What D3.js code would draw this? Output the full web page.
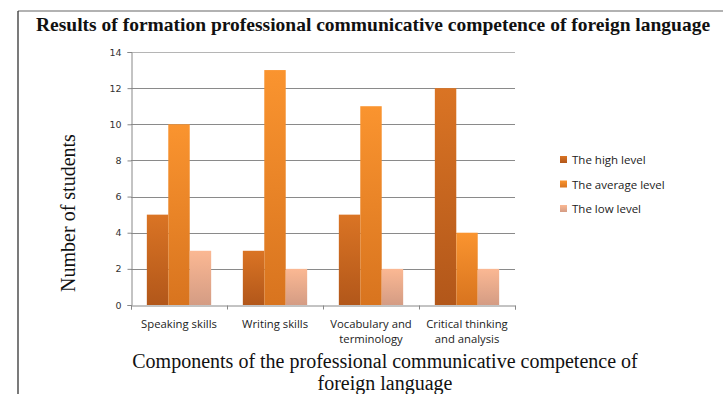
<!DOCTYPE html>
<html>
<head>
<meta charset="utf-8">
<script src="https://cdn.jsdelivr.net/npm/d3@7"></script>
<style>
  html, body { margin: 0; padding: 0; background: #fff; }
  svg { display: block; }
</style>
</head>
<body>
<svg id="chart" width="723" height="394"></svg>
<script>
// Survey results per competence component
const categories = [
  ["Speaking skills"],
  ["Writing skills"],
  ["Vocabulary and", "terminology"],
  ["Critical thinking", "and analysis"]
];
const seriesNames = ["The high level", "The average level", "The low level"];
const highLevel = [5, 3, 5, 12];
const averageLevel = [10, 13, 11, 4];
const lowLevel = [3, 2, 2, 2];
const yTicks = [0, 2, 4, 6, 8, 10, 12, 14];

const series = [highLevel, averageLevel, lowLevel];
const gradStops = [
  ["#da7424", "#b2571a"],
  ["#fa942f", "#d8741f"],
  ["#fbb893", "#d49c84"]
];

const svg = d3.select("#chart");
const margin = { left: 131, right: 208, top: 52, bottom: 89 };
const W = 723, H = 394;

// Gradients for bar fills
const defs = svg.append("defs");
gradStops.forEach((s, i) => {
  const g = defs.append("linearGradient")
    .attr("id", "grad" + i).attr("x1", 0).attr("y1", 0).attr("x2", 0).attr("y2", 1);
  g.append("stop").attr("offset", "0%").attr("stop-color", s[0]);
  g.append("stop").attr("offset", "100%").attr("stop-color", s[1]);
});

// Page frame
svg.append("line").attr("x1", 18).attr("x2", W).attr("y1", 11).attr("y2", 11)
  .attr("stroke", "#666").attr("stroke-width", 1.2);
svg.append("line").attr("x1", 18).attr("x2", 18).attr("y1", 11).attr("y2", H)
  .attr("stroke", "#222").attr("stroke-width", 1.2);

// Title
svg.append("text")
  .attr("x", 36).attr("y", 31)
  .attr("font-family", "Liberation Serif, Times New Roman, serif")
  .attr("font-weight", "bold").attr("font-size", 19.5)
  .attr("fill", "#111")
  .text("Results of formation professional communicative competence of foreign language");

const x0 = d3.scaleBand()
  .domain(d3.range(categories.length))
  .range([margin.left, W - margin.right])
  .paddingInner(0.33).paddingOuter(0.165);
const x1 = d3.scaleBand().domain(d3.range(series.length)).range([0, x0.bandwidth()]);
const y = d3.scaleLinear().domain([0, 14]).range([H - margin.bottom, margin.top]);

// Gridlines
svg.append("g").selectAll("line").data(yTicks.filter(d => d > 0)).join("line")
  .attr("x1", margin.left).attr("x2", W - margin.right)
  .attr("y1", d => Math.round(y(d)) + 0.5).attr("y2", d => Math.round(y(d)) + 0.5)
  .attr("stroke", d => d === 14 ? "#b5b5b5" : "#8a8a8a").attr("stroke-width", 1);

// Bars
const groups = svg.append("g").selectAll("g").data(categories).join("g")
  .attr("transform", (d, i) => `translate(${x0(i)},0)`);
groups.selectAll("rect")
  .data((d, i) => series.map((s, k) => ({ k, v: s[i] })))
  .join("rect")
  .attr("x", d => x1(d.k))
  .attr("width", x1.bandwidth())
  .attr("y", d => y(d.v))
  .attr("height", d => y(0) - y(d.v))
  .attr("fill", d => `url(#grad${d.k})`);

// Y axis
const yAxis = svg.append("g")
  .attr("transform", `translate(${margin.left + 0.5},0)`)
  .call(d3.axisLeft(y).tickValues(yTicks).tickSize(4).tickPadding(6));
yAxis.select(".domain").attr("stroke", "#888");
yAxis.selectAll(".tick line").attr("stroke", "#888");
yAxis.selectAll("text").attr("font-family", "DejaVu Sans, sans-serif")
  .attr("font-size", 9.5).attr("fill", "#333");

// X axis with boundary ticks between categories
const xB = d3.scaleLinear().domain([0, categories.length]).range([margin.left, W - margin.right]);
const xAxis = svg.append("g")
  .attr("transform", `translate(0,${Math.round(y(0)) + 0.5})`)
  .call(d3.axisBottom(xB).tickValues(d3.range(categories.length + 1)).tickSize(4).tickFormat(""));
xAxis.select(".domain").attr("stroke", "#888");
xAxis.selectAll(".tick line").attr("stroke", "#888");

// Category labels
const catLabels = svg.append("g").selectAll("text").data(categories).join("text")
  .attr("text-anchor", "middle")
  .attr("font-family", "Open Sans, sans-serif")
  .attr("font-size", 11.3).attr("fill", "#222")
  .attr("transform", (d, i) => `translate(${x0(i) + x0.bandwidth() / 2},328)`);
catLabels.selectAll("tspan").data(d => d).join("tspan")
  .attr("x", 0).attr("dy", (d, j) => j === 0 ? 0 : 15).text(d => d);

// Axis titles
svg.append("text")
  .attr("transform", `translate(75,213) rotate(-90)`)
  .attr("text-anchor", "middle")
  .attr("font-family", "Liberation Serif, Times New Roman, serif")
  .attr("font-size", 20).attr("fill", "#111")
  .text("Number of students");

const xt = svg.append("text")
  .attr("text-anchor", "middle")
  .attr("font-family", "Liberation Serif, Times New Roman, serif")
  .attr("font-size", 20).attr("fill", "#111");
xt.append("tspan").attr("x", 385).attr("y", 368).text("Components of the professional communicative competence of");
xt.append("tspan").attr("x", 385).attr("y", 390).text("foreign language");

// Legend
const legend = svg.append("g").selectAll("g").data(seriesNames).join("g")
  .attr("transform", (d, i) => `translate(560,${161 + i * 24.5})`);
legend.append("rect").attr("x", 0).attr("y", -5).attr("width", 7).attr("height", 7)
  .attr("fill", (d, i) => `url(#grad${i})`);
legend.append("text").attr("x", 12).attr("y", 3)
  .attr("font-family", "Open Sans, sans-serif")
  .attr("font-size", 11.5).attr("fill", "#222")
  .text(d => d);
</script>
</body>
</html>
